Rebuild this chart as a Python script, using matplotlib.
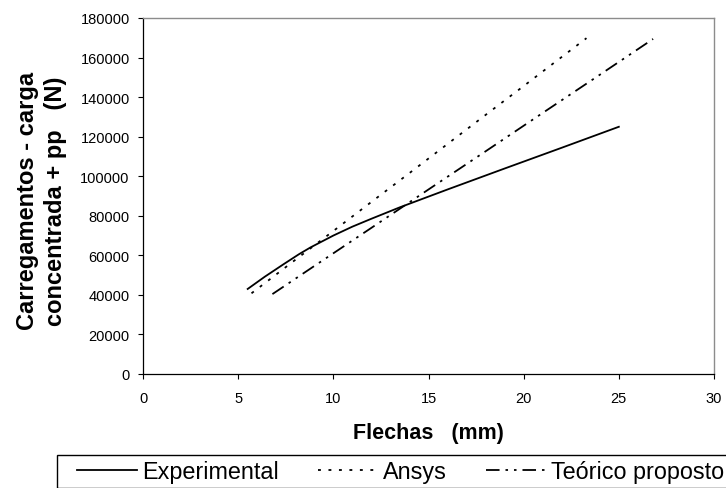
import matplotlib
matplotlib.use("Agg")
import matplotlib.pyplot as plt
from matplotlib.patches import Rectangle

# Load (N) versus deflection (mm)
exp_x = [5.5, 6.4, 7.4, 8.2, 8.8, 10.0, 11.0, 12.0, 13.5, 16, 19, 22, 25]
exp_y = [43000, 49200, 55600, 60600, 64000, 70000, 74500, 78500, 84300, 93300, 103900, 114400, 125000]

ansys_x = [5.7, 8, 10, 12, 14, 16, 18, 20, 22, 23.3]
ansys_y = [40800, 57700, 72300, 87000, 101600, 116300, 131000, 145600, 160300, 169800]

teo_x = [6.8, 9, 12, 15, 18, 21, 24, 26.8]
teo_y = [40400, 54600, 73900, 93300, 112600, 132000, 151300, 169400]

x_ticks = [0, 5, 10, 15, 20, 25, 30]
y_ticks = list(range(0, 180001, 20000))

plt.rcParams["font.family"] = ["Liberation Sans", "DejaVu Sans"]

W, H = 726, 489
fig = plt.figure(figsize=(W / 100, H / 100), dpi=100)
ax = fig.add_axes([143 / W, 1 - 375 / H, 571 / W, 356 / H])

lw = 1.3
ax.plot(exp_x, exp_y, color="black", lw=lw, label="Experimental")
ax.plot(ansys_x, ansys_y, color="black", lw=lw, linestyle=(0, (1.6, 4.2)), label="Ansys")
ax.plot(teo_x, teo_y, color="black", lw=lw,
        linestyle=(0, (7.5, 3.3, 1.4, 3.3, 1.4, 3.3)), label="Teórico proposto")

ax.set_xlim(0, 30)
ax.set_ylim(0, 180000)
ax.set_xticks(x_ticks)
ax.set_yticks(y_ticks)
ax.tick_params(axis="both", direction="out", length=3.6, width=0.8, labelsize=10.5, colors="black")
ax.tick_params(axis="y", pad=6)
ax.tick_params(axis="x", pad=9)

for side in ["left", "bottom"]:
    ax.spines[side].set_color("black")
    ax.spines[side].set_linewidth(0.9)
for side in ["top", "right"]:
    ax.spines[side].set_color("#8c8c8c")
    ax.spines[side].set_linewidth(1.0)

fig.text(428 / W, 1 - 434 / H, "Flechas   (mm)", ha="center", va="center",
         fontsize=15.5, fontweight="bold")
fig.text(41.5 / W, 1 - 201 / H, "Carregamentos - carga\nconcentrada + pp   (N)",
         ha="center", va="center", rotation=90, fontsize=17, fontweight="bold",
         multialignment="center", linespacing=1.3)

# legend box at the bottom, cut by the figure edge
fig.patches.append(Rectangle((57 / W, 0), 1.0, 1 - 455.7 / H, transform=fig.transFigure,
                             fill=False, edgecolor="black", linewidth=1.0))
fig.legend(loc="center left", bbox_to_anchor=(77 / W, 1 - 473 / H), ncol=3,
           frameon=False, fontsize=16.8, handlelength=2.55, handletextpad=0.22,
           columnspacing=1.7, borderpad=0, borderaxespad=0)

fig.savefig("out.png", dpi=100)
